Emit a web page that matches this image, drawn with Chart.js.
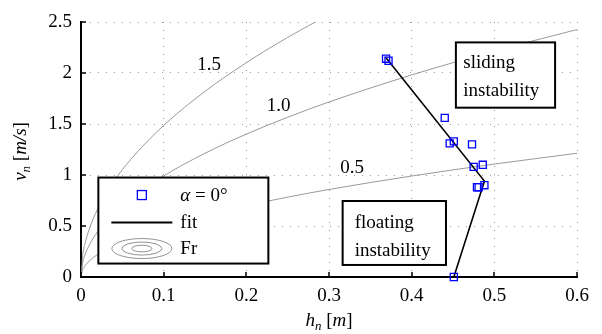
<!DOCTYPE html>
<html>
<head>
<meta charset="utf-8">
<script src="https://cdn.jsdelivr.net/npm/chart.js@4/dist/chart.umd.min.js"></script>
<style>
  html, body { margin:0; padding:0; background:#fff; }
  #c { display:block; }
</style>
</head>
<body>
<canvas id="c" width="602" height="334"></canvas>
<script>
// measured points, alpha = 0 deg
const alphaH = [0.369, 0.372, 0.440, 0.446, 0.451, 0.473, 0.475, 0.486, 0.479, 0.481, 0.488, 0.451]
const alphaV = [2.14, 2.12, 1.56, 1.31, 1.33, 1.30, 1.08, 1.10, 0.88, 0.88, 0.90, 0.00]

// fitted limit line
const fitH = [0.368, 0.488, 0.451]
const fitV = [2.16, 0.94, 0.00]

// Froude lines
const frH  = [0, 0.002, 0.005, 0.01, 0.02, 0.04, 0.06, 0.1, 0.15, 0.2, 0.25, 0.3, 0.4, 0.5, 0.6]
const fr05 = [0, 0.070, 0.111, 0.157, 0.221, 0.313, 0.384, 0.495, 0.607, 0.700, 0.783, 0.858, 0.990, 1.107, 1.213]
const fr10 = [0, 0.140, 0.221, 0.313, 0.443, 0.626, 0.767, 0.990, 1.213, 1.401, 1.566, 1.716, 1.981, 2.215, 2.426]
const fr15 = [0, 0.210, 0.332, 0.470, 0.664, 0.940, 1.151, 1.486, 1.820, 2.101, 2.349, 2.573]

const frLabels = ['1.5', '1.0', '0.5']
const frLabelH = [0.155, 0.239, 0.328]
const frLabelV = [2.08, 1.68, 1.07]

const xTicks = [0, 0.1, 0.2, 0.3, 0.4, 0.5, 0.6]
const yTicks = [0, 0.5, 1, 1.5, 2, 2.5]

const SERIF = '"Liberation Serif", "DejaVu Serif", serif'
const FS = 19
const pts = (xs, ys) => ys.map((y, i) => ({ x: xs[i], y }))

function rich(ctx, parts, x, y) {
  // parts: [text, italic, sub]
  let w = 0
  parts.forEach(p => { ctx.font = font(p); w += ctx.measureText(p[0]).width })
  let cx = x - w / 2
  parts.forEach(p => {
    ctx.font = font(p)
    ctx.fillText(p[0], cx, y + (p[2] ? 4 : 0))
    cx += ctx.measureText(p[0]).width
  })
  function font(p) { return (p[1] ? 'italic ' : '') + (p[2] ? '13px ' : FS + 'px ') + SERIF }
}

function box(ctx, x1, y1, x2, y2) {
  ctx.fillStyle = '#fff'
  ctx.fillRect(x1, y1, x2 - x1, y2 - y1)
  ctx.strokeStyle = '#000'
  ctx.lineWidth = 2
  ctx.strokeRect(x1, y1, x2 - x1, y2 - y1)
}

const overlay = {
  id: 'overlay',
  afterDatasetsDraw(chart) {
    const { ctx, scales: { x, y } } = chart
    ctx.save()
    ctx.fillStyle = '#000'
    ctx.textAlign = 'center'
    ctx.textBaseline = 'middle'
    ctx.font = FS + 'px ' + SERIF
    frLabels.forEach((t, i) => ctx.fillText(t, x.getPixelForValue(frLabelH[i]), y.getPixelForValue(frLabelV[i])))

    // region boxes
    ctx.textAlign = 'left'
    ctx.textBaseline = 'alphabetic'
    box(ctx, x.getPixelForValue(0.4535), y.getPixelForValue(2.30), x.getPixelForValue(0.5735), y.getPixelForValue(1.66))
    box(ctx, x.getPixelForValue(0.3165), y.getPixelForValue(0.745), x.getPixelForValue(0.4415), y.getPixelForValue(0.118))
    ctx.fillStyle = '#000'
    ctx.font = FS + 'px ' + SERIF
    ctx.fillText('sliding', x.getPixelForValue(0.4625), y.getPixelForValue(2.05))
    ctx.fillText('instability', x.getPixelForValue(0.4625), y.getPixelForValue(1.77))
    ctx.fillText('floating', x.getPixelForValue(0.331), y.getPixelForValue(0.48))
    ctx.fillText('instability', x.getPixelForValue(0.331), y.getPixelForValue(0.205))

    // legend
    const lx = x.getPixelForValue(0.021), ly = y.getPixelForValue(0.975)
    box(ctx, lx, ly, lx + 170, ly + 86)
    ctx.strokeStyle = '#0000ff'
    ctx.lineWidth = 1.3
    ctx.strokeRect(lx + 39, ly + 13, 9, 9)
    ctx.strokeStyle = '#000'
    ctx.lineWidth = 2
    ctx.beginPath(); ctx.moveTo(lx + 13, ly + 45); ctx.lineTo(lx + 74, ly + 45); ctx.stroke()
    ctx.strokeStyle = '#777'
    ctx.lineWidth = 0.8
    ;[[30, 10], [20, 6.5], [10, 3.3]].forEach(r => {
      ctx.beginPath(); ctx.ellipse(lx + 43.5, ly + 71, r[0], r[1], 0, 0, Math.PI * 2); ctx.stroke()
    })
    ctx.fillStyle = '#000'
    ctx.textBaseline = 'middle'
    ctx.font = 'italic ' + FS + 'px ' + SERIF
    ctx.fillText('α', lx + 82, ly + 18)
    const aw = ctx.measureText('α').width
    ctx.font = FS + 'px ' + SERIF
    ctx.fillText(' = 0°', lx + 82 + aw, ly + 18)
    ctx.fillText('fit', lx + 82, ly + 45)
    ctx.fillText('Fr', lx + 82, ly + 71)
    ctx.restore()
  },
  afterDraw(chart) {
    const { ctx, chartArea: a, scales: { x, y } } = chart
    ctx.save()
    // inward ticks
    ctx.strokeStyle = '#000'
    ctx.lineWidth = 1.5
    xTicks.forEach(v => {
      const px = Math.round(x.getPixelForValue(v))
      ctx.beginPath(); ctx.moveTo(px, a.bottom); ctx.lineTo(px, a.bottom - 5); ctx.stroke()
    })
    yTicks.forEach(v => {
      const py = Math.round(y.getPixelForValue(v))
      ctx.beginPath(); ctx.moveTo(a.left, py); ctx.lineTo(a.left + 5, py); ctx.stroke()
    })
    // axis titles
    ctx.fillStyle = '#000'
    ctx.textAlign = 'left'
    ctx.textBaseline = 'alphabetic'
    rich(ctx, [['h', true], ['n', true, true], [' [', false], ['m', true], [']', false]], (a.left + a.right) / 2, 326)
    ctx.translate(26, (a.top + a.bottom) / 2 + 2)
    ctx.rotate(-Math.PI / 2)
    rich(ctx, [['v', true], ['n', true, true], [' [', false], ['m/s', true], [']', false]], 0, 0)
    ctx.restore()
  }
}

const frStyle = { borderColor:'#808080', borderWidth:0.8, pointRadius:0, fill:false, cubicInterpolationMode:'monotone', order:3 }

new Chart(document.getElementById('c'), {
  type: 'scatter',
  data: {
    datasets: [
      { type:'line', label:'Fr 0.5', data:pts(frH, fr05), ...frStyle },
      { type:'line', label:'Fr 1.0', data:pts(frH, fr10), ...frStyle },
      { type:'line', label:'Fr 1.5', data:pts(frH.slice(0, fr15.length), fr15), ...frStyle },
      { type:'line', label:'fit', data:pts(fitH, fitV), borderColor:'#000', borderWidth:1.6, pointRadius:0, fill:false, tension:0, order:2 },
      { label:'α = 0°', data:pts(alphaH, alphaV), pointStyle:'rect', pointRadius:5, backgroundColor:'rgba(0,0,0,0)',
        borderColor:'#0000ff', borderWidth:1.3, clip:false, order:1 }
    ]
  },
  options: {
    responsive:false, animation:false,
    layout:{ padding:{ top:22, right:25, left:0, bottom:0 } },
    plugins:{ legend:{display:false}, tooltip:{enabled:false} },
    scales:{
      x:{
        type:'linear', min:0, max:0.6,
        afterFit: s => { s.height = 57 },
        afterBuildTicks: s => { s.ticks = xTicks.map(v => ({ value:v })) },
        grid:{ color:'#9a9a9a', lineWidth:1, drawTicks:false },
        border:{ display:true, color:'#000', width:2, dash:[1, 7] },
        ticks:{ color:'#000', padding:8, font:{ family:SERIF, size:FS }, callback: v => String(Number(v.toFixed(1))) }
      },
      y:{
        type:'linear', min:0, max:2.5,
        afterFit: s => { s.width = 81 },
        afterBuildTicks: s => { s.ticks = yTicks.map(v => ({ value:v })) },
        grid:{ color:'#9a9a9a', lineWidth:1, drawTicks:false },
        border:{ display:true, color:'#000', width:2, dash:[1, 7] },
        ticks:{ color:'#000', padding:9, font:{ family:SERIF, size:FS }, callback: v => String(Number(v.toFixed(1))) }
      }
    }
  },
  plugins:[overlay]
})
</script>
</body>
</html>
